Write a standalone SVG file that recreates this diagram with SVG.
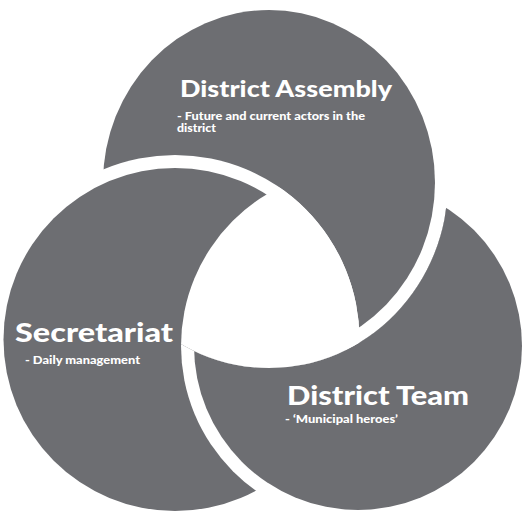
<svg xmlns="http://www.w3.org/2000/svg" width="522" height="512" viewBox="0 0 522 512">
  <style>
    .fill { fill: #6d6e72; }
    .band { fill: #ffffff; }
    .title { fill: #ffffff; font-family: Lato, "Noto Sans", "DejaVu Sans", sans-serif; font-weight: 900; }
    .sub { fill: #ffffff; font-family: Lato, "Noto Sans", "DejaVu Sans", sans-serif; font-weight: 900; font-size: 10.5px; }
  </style>
  <defs>
    <clipPath id="outA">
      <path clip-rule="evenodd" d="M-10 -10H532V522H-10Z M90 182.5a179 185.5 0 1 0 358 0a179 185.5 0 1 0 -358 0Z"/>
    </clipPath>
    <clipPath id="inA">
      <ellipse cx="269" cy="182.5" rx="179" ry="185.5"/>
    </clipPath>
    <clipPath id="inS">
      <circle cx="175" cy="339.5" r="184.5"/>
    </clipPath>
  </defs>
  <rect width="522" height="512" fill="#ffffff"/>
  <g id="district-team-base">
    <circle class="fill" cx="358" cy="346" r="164"/>
  </g>
  <g id="district-assembly">
    <ellipse class="band" cx="269" cy="182.5" rx="179" ry="185.5"/>
    <ellipse class="fill" cx="269" cy="182.5" rx="166" ry="172.5"/>
  </g>
  <g id="secretariat">
    <circle class="band" cx="175" cy="339.5" r="184.5"/>
    <circle class="fill" cx="175" cy="339.5" r="171.5"/>
  </g>
  <g id="district-team" clip-path="url(#outA)">
    <circle class="band" cx="358" cy="346" r="177"/>
    <circle class="fill" cx="358" cy="346" r="164"/>
  </g>
  <g id="centre" clip-path="url(#inA)">
    <g clip-path="url(#inS)">
      <circle class="band" cx="358" cy="346" r="177"/>
    </g>
  </g>
  <g id="connectors"/>
  <g id="labels">
    <text class="title" x="180" y="97" font-size="23" textLength="212" lengthAdjust="spacingAndGlyphs">District Assembly</text>
    <text class="sub" x="177" y="120" textLength="188" lengthAdjust="spacingAndGlyphs">- Future and current actors in the</text>
    <text class="sub" x="177" y="132" textLength="39" lengthAdjust="spacingAndGlyphs">district</text>
    <text class="title" x="15" y="342" font-size="27" textLength="158" lengthAdjust="spacingAndGlyphs">Secretariat</text>
    <text class="sub" x="25" y="364" textLength="115" lengthAdjust="spacingAndGlyphs">- Daily management</text>
    <text class="title" x="287" y="405" font-size="27" textLength="182" lengthAdjust="spacingAndGlyphs">District Team</text>
    <text class="sub" x="285" y="423" textLength="113" lengthAdjust="spacingAndGlyphs">- ‘Municipal heroes’</text>
  </g>
</svg>
